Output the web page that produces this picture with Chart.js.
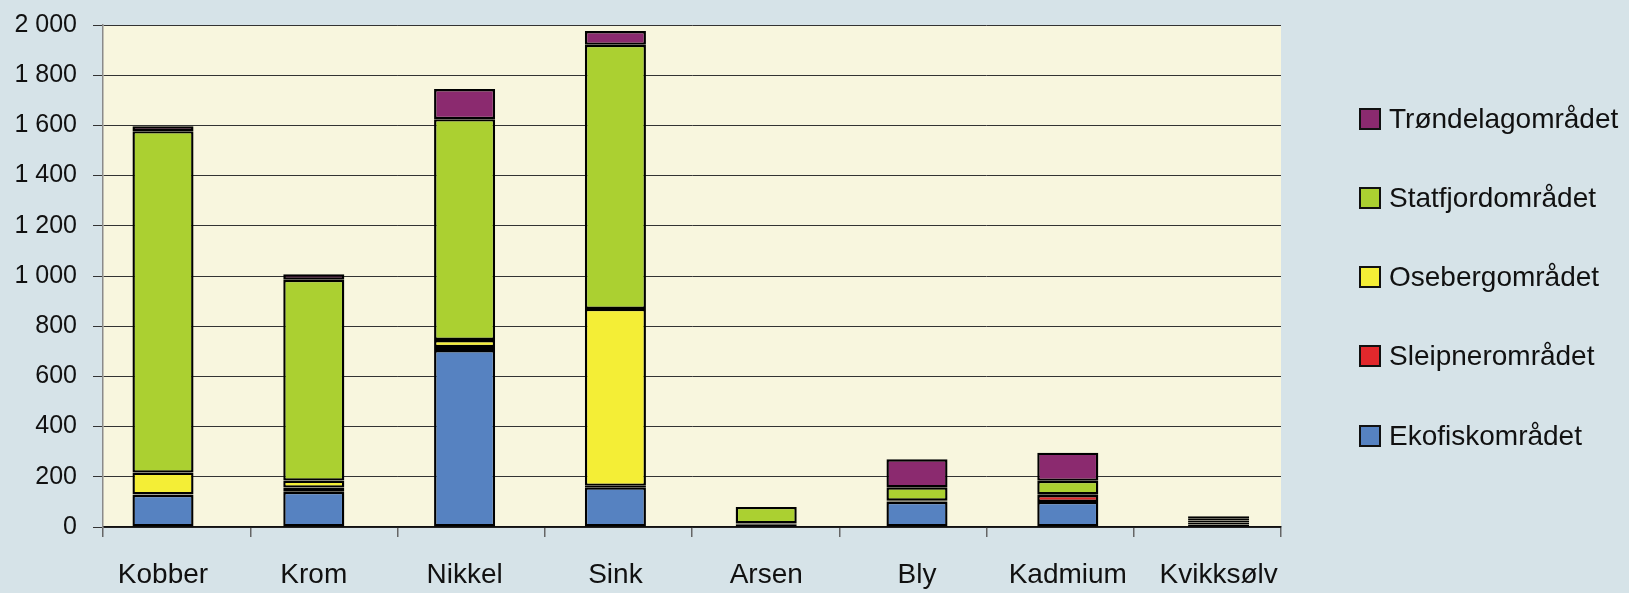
<!DOCTYPE html>
<html>
<head>
<meta charset="utf-8">
<title>Metaller per område</title>
<script src="https://cdn.jsdelivr.net/npm/chart.js"></script>
<style>
html, body {
  margin: 0;
  padding: 0;
  background: #d6e3e8;
}
#wrap {
  position: relative;
  width: 1629px;
  height: 593px;
}
#legend {
  position: absolute;
  left: 1359px;
  top: 0;
  font-family: "Liberation Sans", Arial, sans-serif;
  font-size: 28px;
  color: #111;
}
.item {
  position: absolute;
  left: 0;
  display: flex;
  align-items: center;
  white-space: nowrap;
  height: 30px;
}
.box {
  width: 18px;
  height: 18px;
  border: 2px solid #111;
  margin-right: 8px;
}
</style>
</head>
<body>
<div id="wrap">
  <canvas id="chart"></canvas>
  <div id="legend"></div>
</div>
<script>
const categories = ['Kobber', 'Krom', 'Nikkel', 'Sink', 'Arsen', 'Bly', 'Kadmium', 'Kvikksølv'];

// stacked from bottom to top
const ekofisk    = [128, 140, 705, 158, 8, 100, 100, 10];
const sleipner   = [2, 17, 12, 6, 3, 2, 27, 8];
const oseberg    = [87, 28, 28, 705, 3, 3, 3, 8];
const statfjord  = [1360, 800, 880, 1052, 66, 53, 54, 9];
const trondelag  = [20, 22, 120, 55, 0, 112, 112, 8];

const seriesNames  = ['Ekofiskområdet', 'Sleipnerområdet', 'Osebergområdet', 'Statfjordområdet', 'Trøndelagområdet'];
const seriesColors = ['#5682c1', '#e2282c', '#f4ee36', '#abd031', '#8b2a6f'];
const seriesValues = [ekofisk, sleipner, oseberg, statfjord, trondelag];

const yTicks = [0, 200, 400, 600, 800, 1000, 1200, 1400, 1600, 1800, 2000];

// in the original the bars and labels run on a slightly wider pitch than the tick marks
const barStart = 163;
const barPitch = 150.8;

const plotBg = {
  id: 'plotBg',
  beforeDraw(chart) {
    const a = chart.chartArea;
    const ctx = chart.ctx;
    ctx.save();
    ctx.fillStyle = '#f8f6de';
    ctx.fillRect(a.left, a.top, a.right - a.left, a.bottom - a.top);
    ctx.restore();
  }
};

const barAxisShift = {
  id: 'barAxisShift',
  afterLayout(chart) {
    const s = chart.scales.x;
    s.left = barStart - barPitch / 2;
    s.right = s.left + barPitch * categories.length;
    s.configure();
    s._labelItems = null;
  }
};

function noPad(scale) {
  scale.paddingTop = 0;
  scale.paddingBottom = 0;
  scale.paddingLeft = 0;
  scale.paddingRight = 0;
}

Chart.defaults.font.family = '"Liberation Sans", Arial, sans-serif';
Chart.defaults.font.size = 28;
Chart.defaults.color = '#111';

const datasets = seriesNames.map((name, i) => ({
  label: name,
  data: seriesValues[i],
  xAxisID: 'x',
  yAxisID: 'y',
  backgroundColor: seriesColors[i],
  borderColor: '#000',
  borderWidth: 2.4,
  borderSkipped: false,
  barPercentage: 0.405,
  categoryPercentage: 1
}));

const chart = new Chart(document.getElementById('chart'), {
  type: 'bar',
  data: { labels: categories, datasets: datasets },
  options: {
    responsive: true,
    maintainAspectRatio: false,
    animation: false,
    layout: { padding: { top: 25, right: 348, left: 0, bottom: 0 } },
    plugins: {
      legend: { display: false },
      tooltip: { enabled: false }
    },
    scales: {
      x: {
        stacked: true,
        position: 'bottom',
        weight: 1,
        grid: { display: false },
        border: { display: false },
        ticks: { padding: 23, maxRotation: 0, font: { size: 28 } },
        afterFit(scale) { scale.height = 66; noPad(scale); }
      },
      xt: {
        type: 'category',
        position: 'bottom',
        weight: 0,
        grid: { drawOnChartArea: false, offset: true, tickLength: 10, color: '#666', tickColor: '#666', lineWidth: 1.5 },
        border: { color: '#111', width: 1.5 },
        ticks: { display: false },
        afterFit(scale) { scale.height = 0; noPad(scale); }
      },
      y: {
        stacked: true,
        min: 0,
        max: 2000,
        afterBuildTicks(scale) { scale.ticks = yTicks.map(v => ({ value: v })); },
        grid: { color: '#333', tickColor: '#333', tickLength: 10, lineWidth: 1 },
        border: { color: '#8a8a8a', width: 1.5 },
        ticks: {
          padding: 16,
          font: { size: 25 },
          callback: v => String(v).replace(/\B(?=(\d{3})+(?!\d))/g, ' ')
        },
        afterFit(scale) { scale.width = 103; noPad(scale); }
      }
    }
  },
  plugins: [plotBg, barAxisShift]
});

// legend, top item is the top of the stack
const legend = document.getElementById('legend');
const legendTops = [104, 183, 262, 341, 421];
for (let k = 0; k < seriesNames.length; k++) {
  const i = seriesNames.length - 1 - k;
  const item = document.createElement('div');
  item.className = 'item';
  item.style.top = legendTops[k] + 'px';
  const box = document.createElement('div');
  box.className = 'box';
  box.style.background = seriesColors[i];
  const txt = document.createElement('span');
  txt.innerText = seriesNames[i];
  item.appendChild(box);
  item.appendChild(txt);
  legend.appendChild(item);
}
</script>
</body>
</html>
